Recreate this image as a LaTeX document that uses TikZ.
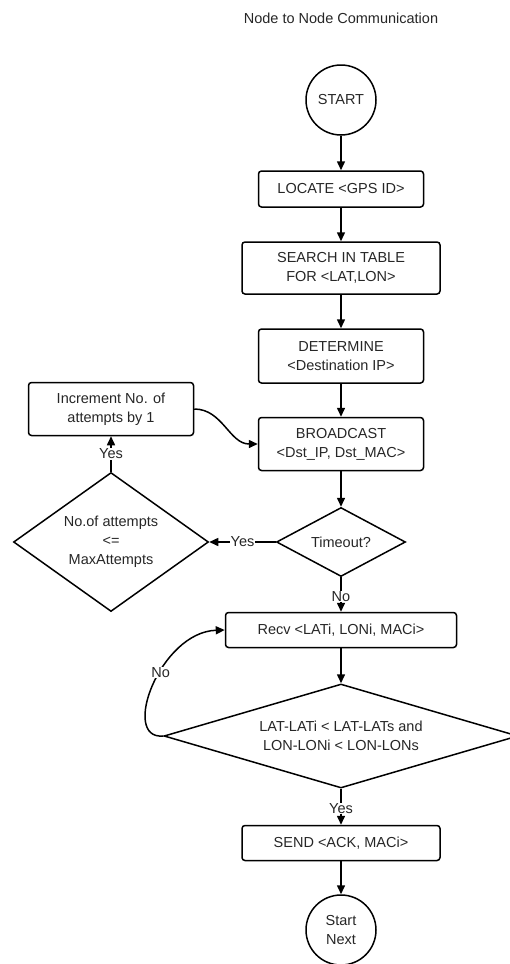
\documentclass[tikz,border=0pt]{standalone}
\usepackage{fontspec}
\setmainfont{Liberation Sans}
\usetikzlibrary{shapes.geometric,arrows.meta}
\begin{document}
\begin{tikzpicture}[x=1pt,y=-1pt,
  every node/.style={font=\fontsize{14.5}{19}\selectfont, align=center, text=black!85},
  box/.style={draw=black, line width=1.5pt, rounded corners=3pt, rectangle, inner sep=2pt},
  term/.style={draw=black, line width=1.5pt, circle, minimum size=70pt, inner sep=0pt},
  dec/.style={draw=black, line width=1.5pt, diamond, inner sep=0pt},
  flow/.style={line width=1.5pt, -{Triangle[length=9pt,width=8pt]}},
  lab/.style={fill=white, inner sep=0.5pt}]
\useasboundingbox (0,0) rectangle (510,964);
\node (title) at (341,18) {Node to Node Communication};
\node[term] (start) at (341,100) {START};
\node[box, minimum width=165pt, minimum height=36pt] (locate) at (341,189) {LOCATE <GPS ID>};
\node[box, minimum width=198pt, minimum height=52pt] (search) at (341,268) {SEARCH IN TABLE\\FOR <LAT,LON>};
\node[box, minimum width=165pt, minimum height=54pt] (determine) at (341,356) {DETERMINE\\<Destination IP>};
\node[box, minimum width=165pt, minimum height=53pt] (broadcast) at (341,444) {BROADCAST\\<Dst\_IP, Dst\_MAC>};
\node[box, minimum width=165pt, minimum height=53pt] (incr) at (111,409) {Increment No. of\\attempts by 1};
\node[dec, aspect=1.4, minimum width=195pt, minimum height=139pt] (attempts) at (111,542) {No.of attempts\\<=\\MaxAttempts};
\node[dec, aspect=1.87, minimum width=129pt, minimum height=69pt] (timeout) at (341,542) {Timeout?};
\node[box, minimum width=231pt, minimum height=35pt] (recv) at (341,630) {Recv <LATi, LONi, MACi>};
\node[dec, aspect=3.4, minimum width=354pt, minimum height=104pt] (cmp) at (341,736) {LAT-LATi < LAT-LATs and\\LON-LONi < LON-LONs};
\node[box, minimum width=198pt, minimum height=35pt] (send) at (341,843) {SEND <ACK, MACi>};
\node[term] (next) at (341,930) {Start\\Next};

\draw[flow] (start) -- (locate);
\draw[flow] (locate) -- (search);
\draw[flow] (search) -- (determine);
\draw[flow] (determine) -- (broadcast);
\draw[flow] (broadcast) -- (timeout);
\draw[flow] (timeout.west) -- node[lab] {Yes} (attempts.east);
\draw[flow] (attempts.north) -- node[lab] {Yes} (incr.south);
\draw[flow] (incr.east) to[out=0,in=180] (broadcast.west);
\draw[flow] (timeout.south) -- node[lab, pos=0.55] {No} (recv.north);
\draw[flow] (recv) -- (cmp);
\draw[flow] (cmp.west) .. controls (120,740) and (160,632) .. node[lab, pos=0.58] {No} (recv.west);
\draw[flow] (cmp.south) -- node[lab, pos=0.55] {Yes} (send.north);
\draw[flow] (send) -- (next);
\end{tikzpicture}
\end{document}
